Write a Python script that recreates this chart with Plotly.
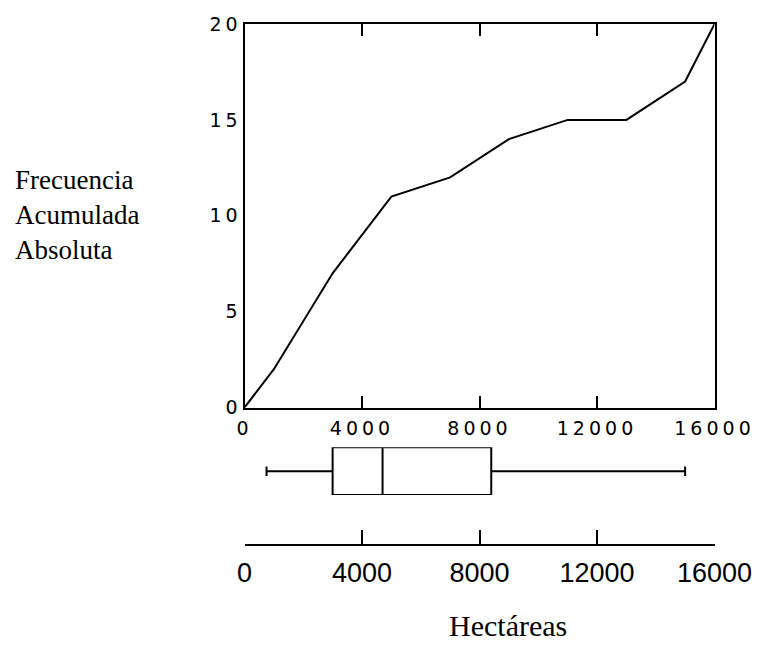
import plotly.graph_objects as go

# ---- data ----
hectareas = [0, 1000, 3000, 5000, 7000, 9000, 11000, 13000, 15000, 16000]
frec_acum = [0, 2, 7, 11, 12, 14, 15, 15, 17, 20]

x_ticks = [0, 4000, 8000, 12000, 16000]
x_tick_labels = ["0", "4000", "8000", "12000", "16000"]
y_ticks = [0, 5, 10, 15, 20]
y_tick_labels = ["0", "5", "10", "15", "20"]
y_minor_left = [5, 10, 15]
y_right_ticks = [3.4, 6.8, 10.2, 13.6, 17.0]

box_lowerfence = [750]
box_q1 = [3000]
box_median = [4700]
box_q3 = [8400]
box_upperfence = [15000]

W, H = 757, 645
def fx(p):
    return p / W
def fy(p):
    return 1 - p / H

def spaced(v, s):
    return '<span style="letter-spacing:%dpx">%s</span>' % (s, v)

fig = go.Figure()

fig.add_trace(go.Scatter(x=hectareas, y=frec_acum, mode="lines",
                         line=dict(color="black", width=2),
                         xaxis="x", yaxis="y", showlegend=False))

fig.add_trace(go.Box(orientation="h", y=[0], q1=box_q1, median=box_median,
                     q3=box_q3, lowerfence=box_lowerfence,
                     upperfence=box_upperfence, width=1,
                     whiskerwidth=0.2, boxpoints=False,
                     line=dict(color="black", width=2), fillcolor="white",
                     xaxis="x2", yaxis="y4", showlegend=False))

xdom = [fx(244.5), fx(714.5)]
tick_font = dict(family="DejaVu Sans", size=19, color="black")

fig.update_layout(
    width=W, height=H,
    margin=dict(l=0, r=0, t=0, b=0),
    paper_bgcolor="white", plot_bgcolor="white",
    showlegend=False,
    xaxis=dict(domain=xdom, range=[0, 16000], tickmode="array",
               tickvals=x_ticks, ticktext=[spaced(v, 4) for v in x_tick_labels],
               ticks="inside", ticklen=12, tickwidth=2, tickcolor="black",
               showline=True, linewidth=2, linecolor="black", mirror="ticks",
               showgrid=False, zeroline=False, tickfont=tick_font,
               anchor="y", automargin=False, ticklabelstandoff=3),
    yaxis=dict(domain=[fy(407.5), fy(24)], range=[0, 20], tickmode="array",
               tickvals=y_ticks, ticktext=[spaced(v, 4) for v in y_tick_labels],
               ticks="", showline=True, linewidth=2, linecolor="black",
               mirror=True, showgrid=False, zeroline=False, tickfont=tick_font,
               anchor="x", ticklabelstandoff=-3, automargin=False),
    yaxis3=dict(overlaying="y", side="left", range=[0, 20], tickmode="array",
                tickvals=y_minor_left, ticks="outside", ticklen=12, tickwidth=2,
                tickcolor="black", showticklabels=False, showline=False,
                showgrid=False, zeroline=False, anchor="x", automargin=False),
    yaxis2=dict(overlaying="y", side="right", range=[0, 20], tickmode="array",
                tickvals=y_right_ticks, ticks="inside", ticklen=14, tickwidth=2,
                tickcolor="black", showticklabels=False, showline=False,
                showgrid=False, zeroline=False, anchor="x", automargin=False),
    xaxis2=dict(domain=xdom, range=[0, 16000], anchor="free",
                position=fy(545), tickmode="array", tickvals=x_ticks,
                ticktext=x_tick_labels,
                ticks="inside", ticklen=14, tickwidth=2, tickcolor="black",
                showline=True, linewidth=2, linecolor="black",
                showgrid=False, zeroline=False, automargin=False,
                ticklabelstandoff=4,
                tickfont=dict(family="Liberation Sans", size=27, color="black")),
    yaxis4=dict(domain=[fy(495), fy(447.3)], range=[-0.5, 0.5], anchor="x2",
                visible=False, fixedrange=True, automargin=False),
    annotations=[
        dict(text="Frecuencia<br>Acumulada<br>Absoluta", x=fx(13), y=fy(215),
             xref="paper", yref="paper", xanchor="left", yanchor="middle",
             align="left", showarrow=False,
             font=dict(family="Liberation Serif", size=27, color="black")),
        dict(text="Hectáreas", x=fx(508), y=fy(644), xref="paper",
             yref="paper", xanchor="center", yanchor="bottom",
             showarrow=False,
             font=dict(family="Liberation Serif", size=30, color="black")),
    ],
)

fig.write_html("out.html",
               config={"displayModeBar": False},
               post_script="document.body.style.margin='0';"
                           "document.body.style.overflow='hidden';")
